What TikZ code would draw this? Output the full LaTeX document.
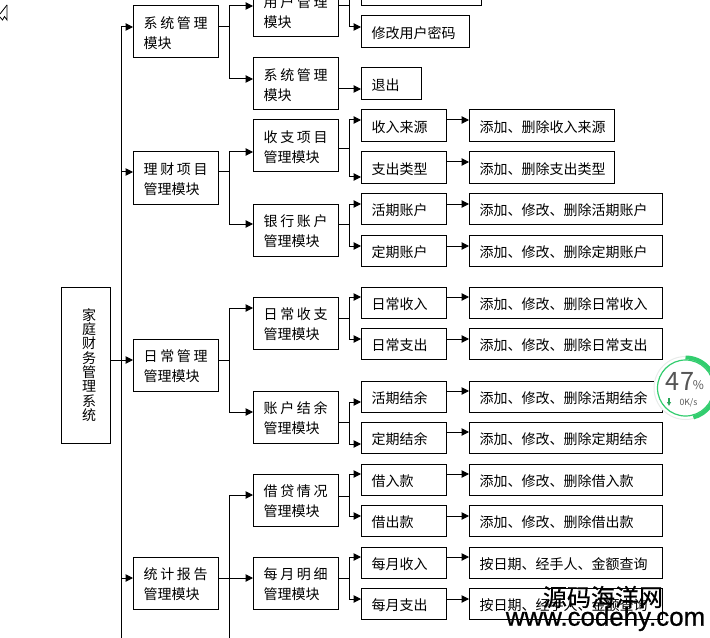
\documentclass[tikz,border=0pt]{standalone}
\usepackage{fontspec}
\setmainfont{Noto Sans CJK SC}
\newfontfamily\urlfont[FakeBold=0.7]{Liberation Sans}
\newfontfamily\markfont[FakeBold=0.6]{Noto Sans CJK SC}
\usepackage{tikz}
\usetikzlibrary{arrows.meta,positioning}
\definecolor{ringgreen}{RGB}{50,205,110}
\definecolor{ringgray}{RGB}{232,236,234}
\definecolor{widgettext}{RGB}{85,85,85}
\newcommand{\spreadfour}[4]{\makebox[48pt][s]{#1\hfill#2\hfill#3\hfill#4}}

\begin{document}
\begin{tikzpicture}[
  x=0.75pt, y=0.75pt,
  node distance=17.25pt,
  every node/.style={outer sep=0pt},
  basebox/.style={rectangle, draw, line width=0.75pt, inner xsep=8pt, inner ysep=0pt, align=left, font=\fontsize{10.5pt}{15pt}\selectfont, execute at begin node={\rule{0pt}{11pt}}},
  modbox/.style={basebox, anchor=north west, text width=47.75pt, minimum height=39pt},
  itembox/.style={basebox, text width=#1, minimum height=23.5pt},
  rootbox/.style={rectangle, draw, line width=0.75pt, inner xsep=10.5pt, text width=15.75pt, minimum height=117pt, align=right, font=\fontsize{10.5pt}{10.7pt}\selectfont},
  arrow/.style={-{Triangle[length=5.5pt,width=5.5pt]}, line width=0.75pt},
  wire/.style={line width=0.75pt}
]
\useasboundingbox (0,0) rectangle (710,-638);
\clip (0,0) rectangle (710,-638);

% 光标
\draw[line width=0.6pt] (7,-5) -- (7,-20) -- (4.5,-16.5) -- (2.5,-20) -- (0,-17);
\draw[line width=0.6pt] (7,-5) -- (0,-14);

% 总模块
\node[rootbox] (root) at (85.5,-365) {家\\庭\\财\\务\\管\\理\\系\\统};

% 第一层
\node[modbox] (sysmod) at (133,-6) {\spreadfour{系}{统}{管}{理}\\模块};
\node[modbox] (finmod) at (133,-152) {\spreadfour{理}{财}{项}{目}\\管理模块};
\node[modbox] (dailymod) at (133,-339) {\spreadfour{日}{常}{管}{理}\\管理模块};
\node[modbox] (statmod) at (133,-557) {\spreadfour{统}{计}{报}{告}\\管理模块};

% 第二层
\node[modbox] (usermod) at (253,15) {\spreadfour{用}{户}{管}{理}\\模块};
\node[modbox] (exitmod) at (253,-58) {\spreadfour{系}{统}{管}{理}\\模块};
\node[modbox] (itemmod) at (253,-120) {\spreadfour{收}{支}{项}{目}\\管理模块};
\node[modbox] (bankmod) at (253,-204) {\spreadfour{银}{行}{账}{户}\\管理模块};
\node[modbox] (flowmod) at (253,-297) {\spreadfour{日}{常}{收}{支}\\管理模块};
\node[modbox] (balmod) at (253,-391) {\spreadfour{账}{户}{结}{余}\\管理模块};
\node[modbox] (loanmod) at (253,-474) {\spreadfour{借}{贷}{情}{况}\\管理模块};
\node[modbox] (monthmod) at (253,-557) {\spreadfour{每}{月}{明}{细}\\管理模块};

% 第三层
\node[itembox=74pt, anchor=south west] (usertop) at (361,-6) {};
\node[itembox=65pt, anchor=north west] (passwd) at (361,-16) {修改用户密码};
\node[itembox=29pt, anchor=north west] (logout) at (361,-68) {退出};
\node[itembox=47.75pt, anchor=north west] (incsrc) at (361,-110) {收入来源};
\node[itembox=47.75pt, anchor=north west] (exptype) at (361,-152) {支出类型};
\node[itembox=47.75pt, anchor=north west] (curacc) at (361,-193) {活期账户};
\node[itembox=47.75pt, anchor=north west] (fixacc) at (361,-235) {定期账户};
\node[itembox=47.75pt, anchor=north west] (dayin) at (361,-287) {日常收入};
\node[itembox=47.75pt, anchor=north west] (dayout) at (361,-328) {日常支出};
\node[itembox=47.75pt, anchor=north west] (curbal) at (361,-381) {活期结余};
\node[itembox=47.75pt, anchor=north west] (fixbal) at (361,-422) {定期结余};
\node[itembox=47.75pt, anchor=north west] (borrow) at (361,-464) {借入款};
\node[itembox=47.75pt, anchor=north west] (lend) at (361,-505) {借出款};
\node[itembox=47.75pt, anchor=north west] (monthin) at (361,-547) {每月收入};
\node[itembox=47.75pt, anchor=north west] (monthout) at (361,-588) {每月支出};

% 第四层
\node[itembox=92.75pt, right=of incsrc] (incsrcop) {添加、删除收入来源};
\node[itembox=92.75pt, right=of exptype] (exptypeop) {添加、删除支出类型};
\node[itembox=128.75pt, right=of curacc] (curaccop) {添加、修改、删除活期账户};
\node[itembox=128.75pt, right=of fixacc] (fixaccop) {添加、修改、删除定期账户};
\node[itembox=128.75pt, right=of dayin] (dayinop) {添加、修改、删除日常收入};
\node[itembox=128.75pt, right=of dayout] (dayoutop) {添加、修改、删除日常支出};
\node[itembox=128.75pt, right=of curbal] (curbalop) {添加、修改、删除活期结余};
\node[itembox=128.75pt, right=of fixbal] (fixbalop) {添加、修改、删除定期结余};
\node[itembox=128.75pt, right=of borrow] (borrowop) {添加、修改、删除借入款};
\node[itembox=128.75pt, right=of lend] (lendop) {添加、修改、删除借出款};
\node[itembox=128.75pt, right=of monthin] (monthinop) {按日期、经手人、金额查询};
\node[itembox=128.75pt, right=of monthout] (monthoutop) {按日期、经手人、金额查询};

% 主干
\coordinate (trunktop) at (121,-27);
\coordinate (trunkend) at (121,-638);
\coordinate (busend) at (229,-638);
\draw[wire] (trunktop) -- (trunkend);
\draw[arrow] (trunktop) -- (sysmod.west |- 0,-27);
\draw[arrow] (trunktop |- 0,-172) -- (finmod.west |- 0,-172);
\draw[arrow] (root.east |- 0,-360) -- (dailymod.west |- 0,-360);
\draw[arrow] (trunktop |- 0,-578) -- (statmod.west |- 0,-578);

% 第一层到第二层
\draw[arrow] (sysmod.east |- 0,-27) -- ++(11,0) |- (usermod.west |- 0,-6);
\draw[arrow] (sysmod.east |- 0,-27) -- ++(11,0) |- (exitmod.west |- 0,-79);
\draw[arrow] (finmod.east |- 0,-172) -- ++(11,0) |- (itemmod.west |- 0,-152);
\draw[arrow] (finmod.east |- 0,-172) -- ++(11,0) |- (bankmod.west |- 0,-224);
\draw[arrow] (dailymod.east |- 0,-360) -- ++(11,0) |- (flowmod.west |- 0,-308);
\draw[arrow] (dailymod.east |- 0,-360) -- ++(11,0) |- (balmod.west |- 0,-412);
\draw[arrow] (statmod.east |- 0,-578) -- (monthmod.west |- 0,-578);
\draw[arrow] (busend) |- (loanmod.west |- 0,-495);

% 第二层到第三层
\draw[arrow] (usermod.east |- 0,-6) -- ++(11,0) |- (usertop.west |- 0,15);
\draw[arrow] (usermod.east |- 0,-6) -- ++(11,0) |- (passwd.west |- 0,-27);
\draw[arrow] (exitmod.east |- 0,-89) -- (logout.west |- 0,-89);
\draw[arrow] (itemmod.east |- 0,-149) -- ++(11,0) |- (incsrc.west |- 0,-120);
\draw[arrow] (itemmod.east |- 0,-149) -- ++(11,0) |- (exptype.west |- 0,-177);
\draw[arrow] (bankmod.east |- 0,-224) -- ++(11,0) |- (curacc.west |- 0,-204);
\draw[arrow] (bankmod.east |- 0,-224) -- ++(11,0) |- (fixacc.west |- 0,-246);
\draw[arrow] (flowmod.east |- 0,-318) -- ++(11,0) |- (dayin.west |- 0,-297);
\draw[arrow] (flowmod.east |- 0,-318) -- ++(11,0) |- (dayout.west |- 0,-339);
\draw[arrow] (balmod.east |- 0,-422) -- ++(11,0) |- (curbal.west |- 0,-402);
\draw[arrow] (balmod.east |- 0,-422) -- ++(11,0) |- (fixbal.west |- 0,-444);
\draw[arrow] (loanmod.east |- 0,-496) -- ++(11,0) |- (borrow.west |- 0,-474);
\draw[arrow] (loanmod.east |- 0,-496) -- ++(11,0) |- (lend.west |- 0,-516);
\draw[arrow] (monthmod.east |- 0,-578) -- ++(11,0) |- (monthin.west |- 0,-557);
\draw[arrow] (monthmod.east |- 0,-578) -- ++(11,0) |- (monthout.west |- 0,-599);

% 第三层到第四层
\draw[arrow] (incsrc.east |- 0,-120) -- (incsrcop.west |- 0,-120);
\draw[arrow] (exptype.east |- 0,-162) -- (exptypeop.west |- 0,-162);
\draw[arrow] (curacc.east |- 0,-204) -- (curaccop.west |- 0,-204);
\draw[arrow] (fixacc.east |- 0,-246) -- (fixaccop.west |- 0,-246);
\draw[arrow] (dayin.east |- 0,-297) -- (dayinop.west |- 0,-297);
\draw[arrow] (dayout.east |- 0,-339) -- (dayoutop.west |- 0,-339);
\draw[arrow] (curbal.east |- 0,-391) -- (curbalop.west |- 0,-391);
\draw[arrow] (fixbal.east |- 0,-432) -- (fixbalop.west |- 0,-432);
\draw[arrow] (borrow.east |- 0,-474) -- (borrowop.west |- 0,-474);
\draw[arrow] (lend.east |- 0,-516) -- (lendop.west |- 0,-516);
\draw[arrow] (monthin.east |- 0,-557) -- (monthinop.west |- 0,-557);
\draw[arrow] (monthout.east |- 0,-599) -- (monthoutop.west |- 0,-599);

% 网速小窗
\fill[white] (685.5,-388) circle (32);
\draw[ringgray, line width=0.75pt] (685.5,-388) circle (31.5);
\draw[ringgreen, line width=0.9pt] (685.5,-388) circle (28);
\draw[ringgreen, line width=3pt] (685.5,-357.5) arc (90:-75:30.5);
\node[text=widgettext, font=\fontsize{19pt}{19pt}\selectfont, inner sep=0pt] (percent) at (680,-381) {47};
\node[text=widgettext, font=\fontsize{9pt}{9pt}\selectfont, inner sep=0pt] (percentsign) at (698.5,-385) {\%};
\node[text=widgettext, font=\fontsize{6.5pt}{6.5pt}\selectfont, inner sep=0pt] (speed) at (688.5,-402.5) {0K/s};
\coordinate (downtop) at (669,-398);
\coordinate (downend) at (669,-406);
\draw[ringgreen!80!black, -{Latex[length=3pt,width=3.5pt]}, line width=0.9pt] (downtop) -- (downend);

% 水印
\node[font=\markfont\fontsize{18pt}{18pt}\selectfont, inner sep=0pt] (markcn) at (603,-597) {源码海洋网};
\node[font=\urlfont\fontsize{19.4pt}{19.4pt}\selectfont, inner sep=0pt] (markurl) at (605.5,-619) {www.codehy.com};

\end{tikzpicture}
\end{document}
